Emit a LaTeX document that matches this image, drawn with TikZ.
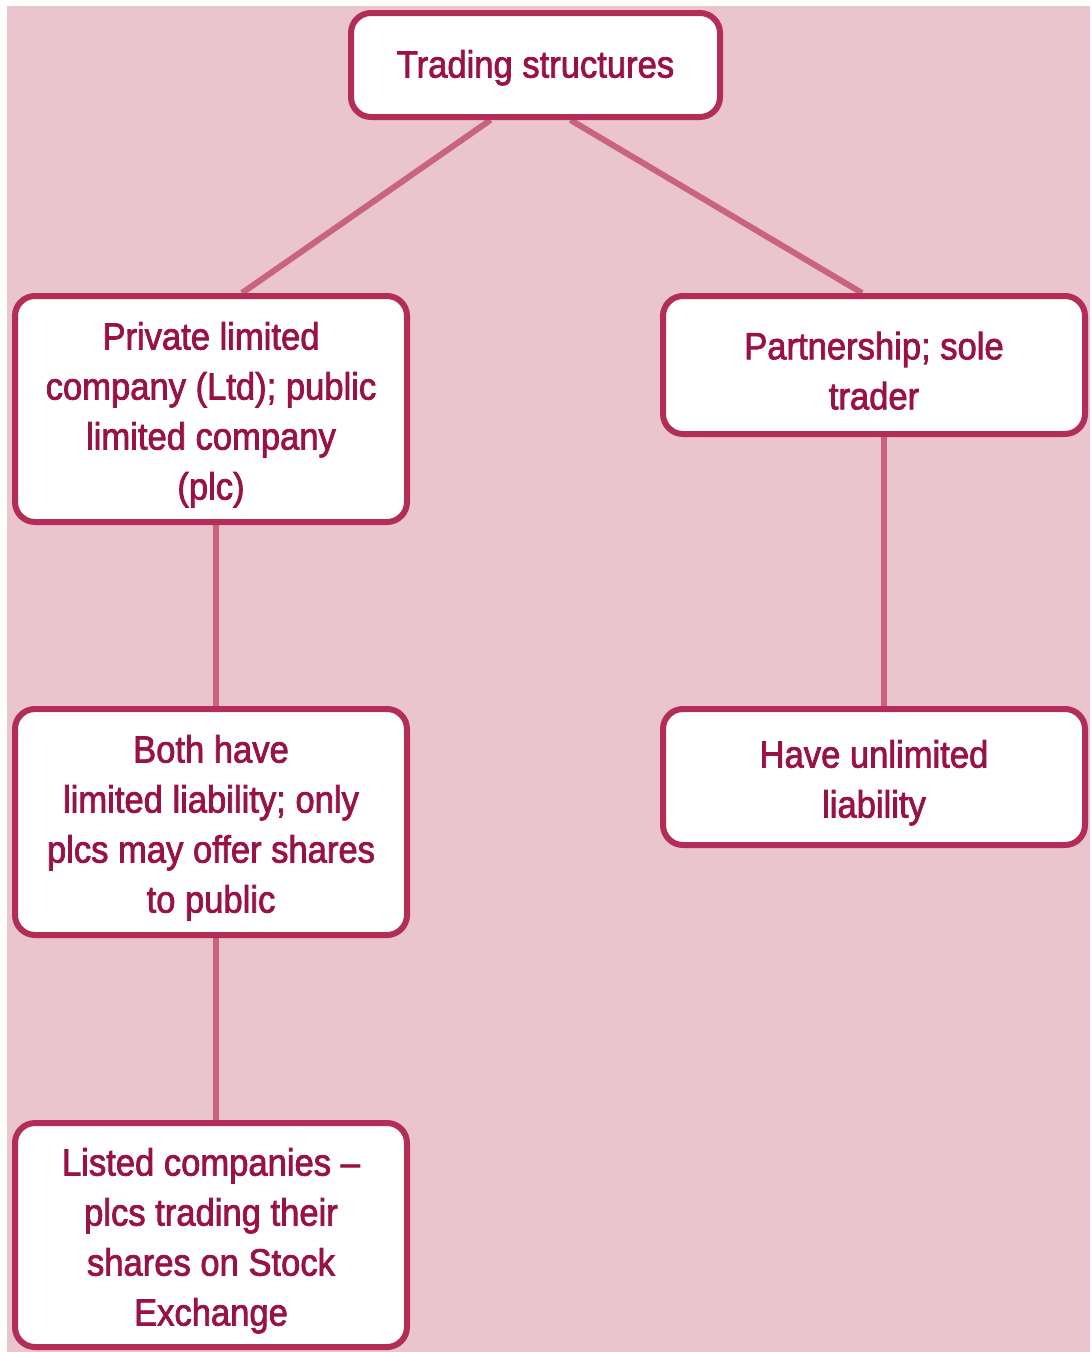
\documentclass[tikz,border=0pt]{standalone}
\usepackage{fontspec}
\setmainfont[FakeStretch=0.91,FakeBold=2]{Liberation Sans}
\usetikzlibrary{backgrounds}
\definecolor{pinkbg}{RGB}{234,197,205}
\definecolor{boxred}{RGB}{178,46,88}
\definecolor{txtred}{RGB}{152,18,72}
\definecolor{linkred}{RGB}{200,100,126}
\newcommand{\tstrut}[1][39pt]{\rule{0pt}{#1}}
\tikzset{
   box/.style={draw=boxred,line width=6pt,fill=white,rounded corners=20pt,
      text=txtred,align=center,inner sep=0pt,
      font=\fontsize{38}{50}\selectfont},
   link/.style={draw=linkred,line width=6pt}
}

\begin{document}
\begin{tikzpicture}[x=1pt,y=-1pt]
   \useasboundingbox (0,0) rectangle (1090,1352);
   \node[box,minimum width=369pt,minimum height=104pt] (top) at (535.5,65) {\tstrut[33pt]Trading structures};
   \node[box,minimum width=392pt,minimum height=226pt] (plc) at (211,409) {\tstrut Private limited\\company (Ltd); public\\limited company\\(plc)};
   \node[box,minimum width=422pt,minimum height=138pt] (part) at (874,365) {\tstrut Partnership; sole\\trader};
   \node[box,minimum width=392pt,minimum height=226pt] (both) at (211,822) {\tstrut Both have\\limited liability; only\\plcs may offer shares\\to public};
   \node[box,minimum width=422pt,minimum height=136pt] (unlim) at (874,777) {\tstrut Have unlimited\\liability};
   \node[box,minimum width=392pt,minimum height=224pt] (listed) at (211,1235) {\tstrut Listed companies --\\plcs trading their\\shares on Stock\\Exchange};
   \begin{pgfonlayer}{background}
      \fill[white] (0,0) rectangle (1090,1352);
      \fill[pinkbg] (7,6) rectangle (1090,1352);
      \draw[link] ([xshift=-45pt]top.south) -- ([xshift=31pt]plc.north);
      \draw[link] ([xshift=35pt]top.south) -- ([xshift=-12pt]part.north);
      \draw[link] ([xshift=5pt]plc.south) -- ([xshift=5pt]both.north);
      \draw[link] ([xshift=5pt]both.south) -- ([xshift=5pt]listed.north);
      \draw[link] ([xshift=10pt]part.south) -- ([xshift=10pt]unlim.north);
   \end{pgfonlayer}
\end{tikzpicture}
\end{document}
